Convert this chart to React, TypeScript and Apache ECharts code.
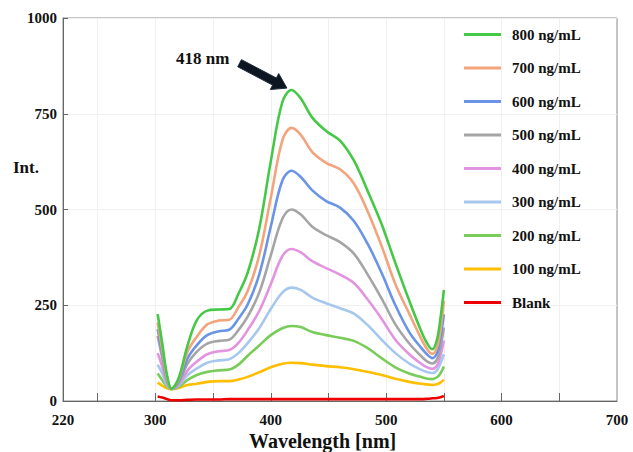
import React, { useEffect, useRef } from 'react';
import * as echarts from 'echarts';

const wavelengths = [302, 306, 310, 314, 320, 328, 336, 345, 355, 364, 372, 380, 390, 400, 410, 418, 426, 436, 448, 460, 472, 484, 496, 508, 520, 530, 536, 540, 544, 547, 550];

const s800 = [227, 150, 70, 32, 58, 146, 211, 236, 239, 240, 280, 335, 450, 625, 780, 812, 790, 740, 705, 680, 628, 548, 462, 360, 262, 185, 148, 135, 160, 215, 290];
const s700 = [205, 135, 62, 32, 55, 130, 168, 200, 210, 212, 245, 287, 380, 530, 680, 713, 695, 650, 622, 605, 568, 495, 405, 305, 228, 165, 133, 123, 140, 185, 262];
const s600 = [188, 125, 58, 32, 50, 112, 146, 172, 182, 186, 215, 252, 330, 455, 575, 601, 585, 550, 522, 505, 470, 410, 335, 250, 180, 140, 120, 112, 125, 165, 226];
const s500 = [170, 112, 52, 32, 46, 98, 129, 150, 157, 160, 185, 220, 283, 380, 475, 500, 487, 455, 433, 415, 385, 330, 268, 200, 150, 118, 102, 98, 108, 140, 192];
const s400 = [125, 90, 48, 32, 42, 80, 103, 122, 130, 133, 152, 185, 235, 305, 378, 397, 388, 365, 347, 330, 308, 265, 215, 160, 122, 98, 87, 84, 92, 118, 158];
const s300 = [95, 72, 42, 32, 40, 68, 85, 100, 106, 109, 125, 151, 190, 240, 283, 296, 290, 270, 255, 242, 228, 198, 160, 125, 98, 82, 75, 73, 80, 98, 122];
const s200 = [72, 55, 38, 31, 36, 55, 68, 76, 80, 82, 95, 118, 145, 172, 190, 196, 193, 180, 172, 165, 157, 138, 112, 88, 72, 63, 58, 57, 62, 72, 90];
const s100 = [48, 40, 33, 31, 34, 42, 45, 50, 52, 52, 56, 63, 75, 88, 97, 100, 99, 95, 91, 88, 83, 76, 68, 58, 50, 45, 43, 42, 44, 48, 56];
const blank = [12, 9, 5, 2, 2, 3, 4, 4, 4, 5, 5, 5, 5, 5, 5, 5, 5, 5, 5, 5, 5, 5, 5, 5, 5, 5, 6, 7, 8, 10, 13];

const seriesNames = ['800 ng/mL', '700 ng/mL', '600 ng/mL', '500 ng/mL', '400 ng/mL', '300 ng/mL', '200 ng/mL', '100 ng/mL', 'Blank'];
const seriesValues = [s800, s700, s600, s500, s400, s300, s200, s100, blank];
const seriesColors = ['#45c845', '#f4a47c', '#6a95e6', '#a5a5a5', '#e394e0', '#a6c8ee', '#7acc5a', '#ffbf00', '#ee0000'];

const xLabelValues = [220, 300, 400, 500, 600, 700];
const xTickValues = [250, 300, 350, 400, 450, 500, 550, 600, 650];

const peakLabel = '418 nm';
const arrowTip = [414, 817];
const arrowTail = [373, 882];

const FONT = '"Liberation Serif", "Times New Roman", serif';

export default function App() {
  const ref = useRef<HTMLDivElement>(null);
  useEffect(() => {
    const chart = echarts.init(ref.current!, null, { renderer: 'svg' });
    const series = seriesNames
      .map((name, k) => ({
        name,
        type: 'line',
        data: wavelengths.map((w, i) => [w, seriesValues[k][i]]),
        smooth: 0.35,
        symbol: 'none',
        showSymbol: false,
        lineStyle: { color: seriesColors[k], width: 2.6 },
        itemStyle: { color: seriesColors[k] },
        z: 10 - k,
      }))
      .reverse();

    chart.setOption({
      animation: false,
      backgroundColor: '#fff',
      grid: { left: 63, right: 16, top: 18, bottom: 51, show: true, borderColor: '#8a8a8a', borderWidth: 1 },
      legend: {
        orient: 'vertical',
        left: 464,
        top: 27,
        padding: 0,
        icon: 'rect',
        itemWidth: 37,
        itemHeight: 3,
        itemGap: 18.5,
        data: seriesNames,
        textStyle: { fontFamily: FONT, fontWeight: 'bold', fontSize: 15, color: '#111', padding: [0, 0, 0, 6] },
      },
      xAxis: {
        type: 'value',
        min: 220,
        max: 700,
        axisLine: { show: true, lineStyle: { color: '#666', width: 1 } },
        axisTick: { show: true, inside: true, length: 8, customValues: xTickValues, lineStyle: { color: '#666' } },
        axisLabel: { customValues: xLabelValues, margin: 11, fontFamily: FONT, fontWeight: 'bold', fontSize: 15, color: '#111', formatter: (v: number) => String(v) },
        splitLine: { show: true, lineStyle: { color: '#f0f0f0' } },
      },
      yAxis: {
        type: 'value',
        min: 0,
        max: 1000,
        interval: 250,
        axisLine: { show: true, lineStyle: { color: '#666', width: 1 } },
        axisTick: { show: true, inside: true, length: 5, lineStyle: { color: '#666' } },
        axisLabel: { margin: 6, fontFamily: FONT, fontWeight: 'bold', fontSize: 15, color: '#111', formatter: (v: number) => String(v) },
        splitLine: { show: true, lineStyle: { color: '#f0f0f0' } },
      },
      series,
    });

    const tip = chart.convertToPixel({ gridIndex: 0 }, arrowTip) as number[];
    const tail = chart.convertToPixel({ gridIndex: 0 }, arrowTail) as number[];
    const dx = tip[0] - tail[0];
    const dy = tip[1] - tail[1];
    const len = Math.sqrt(dx * dx + dy * dy);
    const ux = dx / len, uy = dy / len;
    const nx = -uy, ny = ux;
    const headLen = 14, shaftW = 4, headW = 9;
    const bx = tip[0] - ux * headLen, by = tip[1] - uy * headLen;
    const pts = [
      [tail[0] + nx * shaftW, tail[1] + ny * shaftW],
      [bx + nx * shaftW, by + ny * shaftW],
      [bx + nx * headW, by + ny * headW],
      [tip[0], tip[1]],
      [bx - nx * headW, by - ny * headW],
      [bx - nx * shaftW, by - ny * shaftW],
      [tail[0] - nx * shaftW, tail[1] - ny * shaftW],
    ];

    chart.setOption({
      graphic: [
        { type: 'polygon', shape: { points: pts }, style: { fill: '#0d1520', stroke: '#1c2b3c', lineWidth: 1 }, z: 100 },
        { type: 'text', left: 176, top: 50, style: { text: peakLabel, fontFamily: FONT, fontWeight: 'bold', fontSize: 17, fill: '#111' }, z: 100 },
        { type: 'text', left: 13, top: 159, style: { text: 'Int.', fontFamily: FONT, fontWeight: 'bold', fontSize: 17, fill: '#111' }, z: 100 },
        { type: 'text', left: 249, top: 431, style: { text: 'Wavelength [nm]', fontFamily: FONT, fontWeight: 'bold', fontSize: 20, fill: '#111' }, z: 100 },
      ],
    });

    return () => chart.dispose();
  }, []);
  return <div ref={ref} style={{ position: 'fixed', left: 0, top: 0, width: 633, height: 452 }} />;
}
